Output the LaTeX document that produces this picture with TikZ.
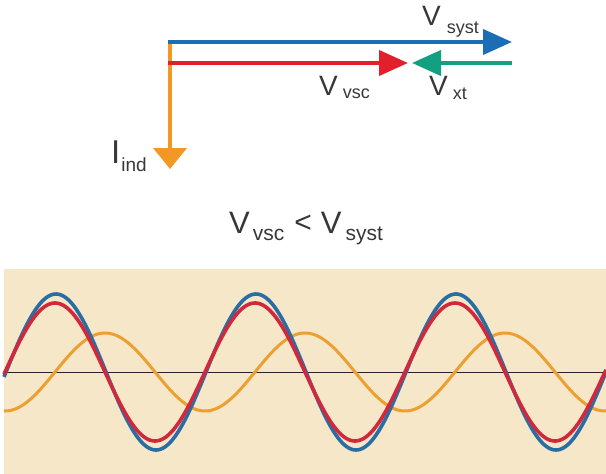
\documentclass[tikz,border=0pt]{standalone}
\usepackage{fontspec}
\setmainfont{Liberation Sans}
\usetikzlibrary{arrows.meta}
\definecolor{vblue}{RGB}{28,110,180}
\definecolor{vred}{RGB}{226,32,44}
\definecolor{vgreen}{RGB}{18,160,128}
\definecolor{vorange}{RGB}{243,152,36}
\definecolor{wblue}{RGB}{40,110,165}
\definecolor{wred}{RGB}{210,40,60}
\definecolor{worange}{RGB}{236,160,50}
\definecolor{beige}{RGB}{246,231,200}
\definecolor{txt}{RGB}{55,55,55}
\tikzset{
  phasor/.style={line width=4pt,-{Triangle[length=29pt,width=25pt]}},
  lbl/.style={inner sep=0pt,anchor=base west,text=txt},
  wave/.style={line width=3.6pt,line join=round},
}
\newcommand{\bigV}[1]{\fontsize{#1}{#1}\selectfont V}
\newcommand{\subtxt}[3]{\raisebox{-#2pt}{\fontsize{#1}{#1}\selectfont #3}}
\begin{document}
\begin{tikzpicture}[x=1pt,y=-1pt]
\useasboundingbox (0,0) rectangle (606,474);
% ---- phasor diagram ----
\coordinate (otop) at (170,40);
\coordinate (otip) at (170,169);
\coordinate (bstart) at (168,42);
\coordinate (btip) at (512,42);
\coordinate (rstart) at (168,63);
\coordinate (rtip) at (408,63);
\coordinate (gstart) at (512,63);
\coordinate (gtip) at (412,63);
\draw[vorange,line width=4pt,-{Triangle[length=21pt,width=33pt]}] (otop) -- (otip);
\draw[phasor,vblue] (bstart) -- (btip);
\draw[phasor,vred] (rstart) -- (rtip);
\draw[phasor,vgreen] (gstart) -- (gtip);
\node[lbl] (vsyst) at (422,25) {\bigV{28}\hspace{6pt}\subtxt{18}{8}{syst}};
\node[lbl] (vvsc) at (319,95) {\bigV{28}\hspace{5pt}\subtxt{18}{3}{vsc}};
\node[lbl] (vxt) at (429,95) {\bigV{28}\hspace{5pt}\subtxt{18}{4}{xt}};
\node[lbl] (iind) at (111,163) {\fontsize{33}{33}\selectfont I\hspace{1pt}\subtxt{19}{8}{ind}};
\node[lbl] (ineq) at (229,233) {\bigV{31}\hspace{3pt}\subtxt{21}{7}{vsc}\hspace{10pt}\fontsize{30}{30}\selectfont\raisebox{1pt}{<}\hspace{9pt}\bigV{31}\hspace{4pt}\subtxt{21}{7}{syst}};
% ---- waveforms ----
\fill[beige] (4,269) rectangle (606,474);
\draw[line width=1pt,black!85] (4,372) -- (606,372);
\draw[wave,worange,line width=3pt] plot[domain=4:606,samples=300,smooth] (\x,{372+39*cos(1.8*(\x-5))});
\draw[wave,wblue] plot[domain=4:606,samples=300,smooth] (\x,{372-78*sin(1.8*(\x-6))});
\draw[wave,wred] plot[domain=4:606,samples=300,smooth] (\x,{372-69*sin(1.8*(\x-5))});
\end{tikzpicture}
\end{document}
